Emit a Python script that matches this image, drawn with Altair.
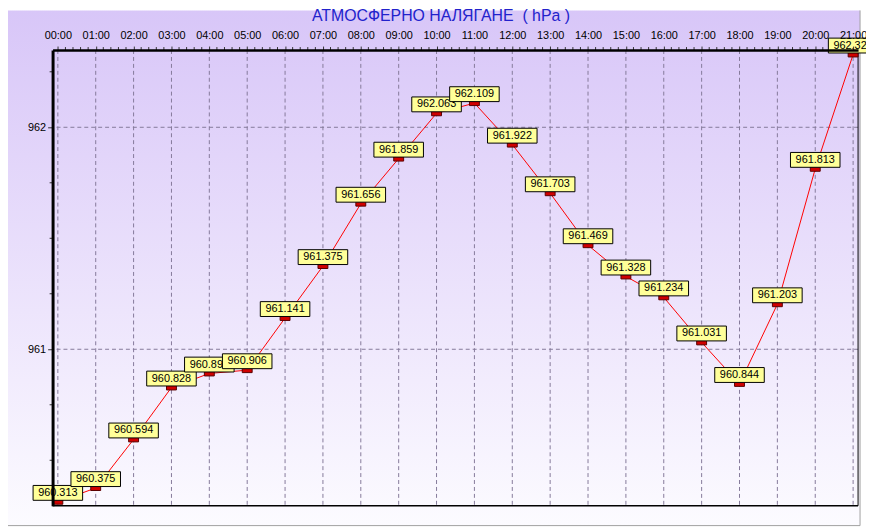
import altair as alt
import pandas as pd

# ---- data ----
title_text = "АТМОСФЕРНО НАЛЯГАНЕ\u00a0 ( hPa )"
hours = list(range(22))
pressure = [960.313, 960.375, 960.594, 960.828, 960.891, 960.906, 961.141, 961.375,
            961.656, 961.859, 962.063, 962.109, 961.922, 961.703, 961.469, 961.328,
            961.234, 961.031, 960.844, 961.203, 961.813, 962.328]
y_major = [961, 962]
y_minor = [960.5, 960.75, 961.25, 961.5, 961.75, 962.25]
x_minor = [h + k / 5 for h in range(0, 22) for k in range(1, 5) if h + k / 5 < 21.13]

df = pd.DataFrame({"h": hours, "v": pressure, "i": hours})

W, H = 813, 460
xs = alt.Scale(domain=[-0.139, 21.131], nice=False, zero=False)
ys = alt.Scale(domain=[960.295, 962.348], nice=False, zero=False)

xaxis = alt.Axis(orient="top", values=hours, title=None, grid=False,
                 labelExpr="(datum.value < 10 ? '0' : '') + datum.value + ':00'",
                 labelFontSize=11, labelFont="Liberation Sans", labelColor="black",
                 tickSize=4, tickColor="#333333", labelPadding=6,
                 domainColor="black", domainWidth=2.5, zindex=1, labelFlush=False,
                 labelOverlap=False)
yaxis = alt.Axis(orient="left", values=y_major, title=None, grid=False, format="d",
                 labelFontSize=11, labelFont="Liberation Sans", labelColor="black",
                 tickSize=5, tickColor="#333333", labelPadding=2,
                 domainColor="black", domainWidth=3, zindex=1)

X = alt.X("h:Q", scale=xs, axis=xaxis)
Y = alt.Y("v:Q", scale=ys, axis=yaxis)

grad = alt.Gradient(gradient="linear",
                    stops=[alt.GradientStop(color="#d8c6f8", offset=0),
                           alt.GradientStop(color="#fcfbff", offset=1)],
                    x1=0, x2=0, y1=0, y2=1)

one = alt.Data(values=[{"a": 1}])

bg = alt.Chart(one).mark_rect(fill=grad).encode(
    x=alt.value(-45), x2=alt.value(815), y=alt.value(-40), y2=alt.value(480))
edge_b = alt.Chart(one).mark_rule(color="#a0a0a0").encode(
    x=alt.value(-45), x2=alt.value(815), y=alt.value(480))
edge_r = alt.Chart(one).mark_rule(color="#a0a0a0").encode(
    x=alt.value(815), y=alt.value(-40), y2=alt.value(480))

title = alt.Chart(alt.Data(values=[{"t": title_text}])).mark_text(
    fontSize=16, font="Liberation Sans", color="#2222cc", align="center",
    baseline="alphabetic").encode(x=alt.value(392), y=alt.value(-29), text="t:N")

grid_color = "#85799a"
vgrid = alt.Chart(pd.DataFrame({"h": hours})).mark_rule(
    color=grid_color, strokeDash=[4, 3], strokeWidth=1).encode(x=X)
hgrid = alt.Chart(pd.DataFrame({"v": y_major})).mark_rule(
    color=grid_color, strokeDash=[4, 3], strokeWidth=1).encode(y=Y)

xminor = alt.Chart(pd.DataFrame({"h": x_minor})).mark_rule(
    color="#333333", strokeWidth=1).encode(x=X, y=alt.value(-3), y2=alt.value(0))
yminor = alt.Chart(pd.DataFrame({"v": y_minor})).mark_rule(
    color="#333333", strokeWidth=1).encode(y=Y, x=alt.value(-3), x2=alt.value(0))

border_b = alt.Chart(one).mark_rule(color="black", strokeWidth=1.5).encode(
    x=alt.value(0), x2=alt.value(W), y=alt.value(H))
border_r = alt.Chart(one).mark_rule(color="black", strokeWidth=1).encode(
    x=alt.value(W), y=alt.value(0), y2=alt.value(H))

base = alt.Chart(df)
line = base.mark_line(color="#ff0000", strokeWidth=1).encode(x=X, y=Y)
markers = base.mark_rect(width=10, height=5, fill="#d00000", stroke="#5a0000",
                         strokeWidth=1).encode(x=X, y=Y)

labels = []
for i in hours:
    sub = base.transform_filter(alt.datum.i == i)
    labels.append(sub.mark_rect(width=50, height=15, yOffset=-9, fill="#ffff99",
                                stroke="black", strokeWidth=1).encode(x=X, y=Y))
    labels.append(sub.mark_text(fontSize=11, font="Liberation Sans", color="black",
                                yOffset=-9).encode(x=X, y=Y,
                                                   text=alt.Text("v:Q", format=".3f")))

chart = alt.layer(
    bg, edge_b, edge_r, title, vgrid, hgrid, xminor, yminor, border_b, border_r,
    line, markers, *labels
).properties(
    width=W, height=H,
    autosize=alt.AutoSizeParams(type="none"),
    padding={"left": 45, "top": 40, "right": 8, "bottom": 20},
).configure_view(stroke=None).configure(background="white")

chart.save("out.html", embed_options={"renderer": "svg", "actions": False})
